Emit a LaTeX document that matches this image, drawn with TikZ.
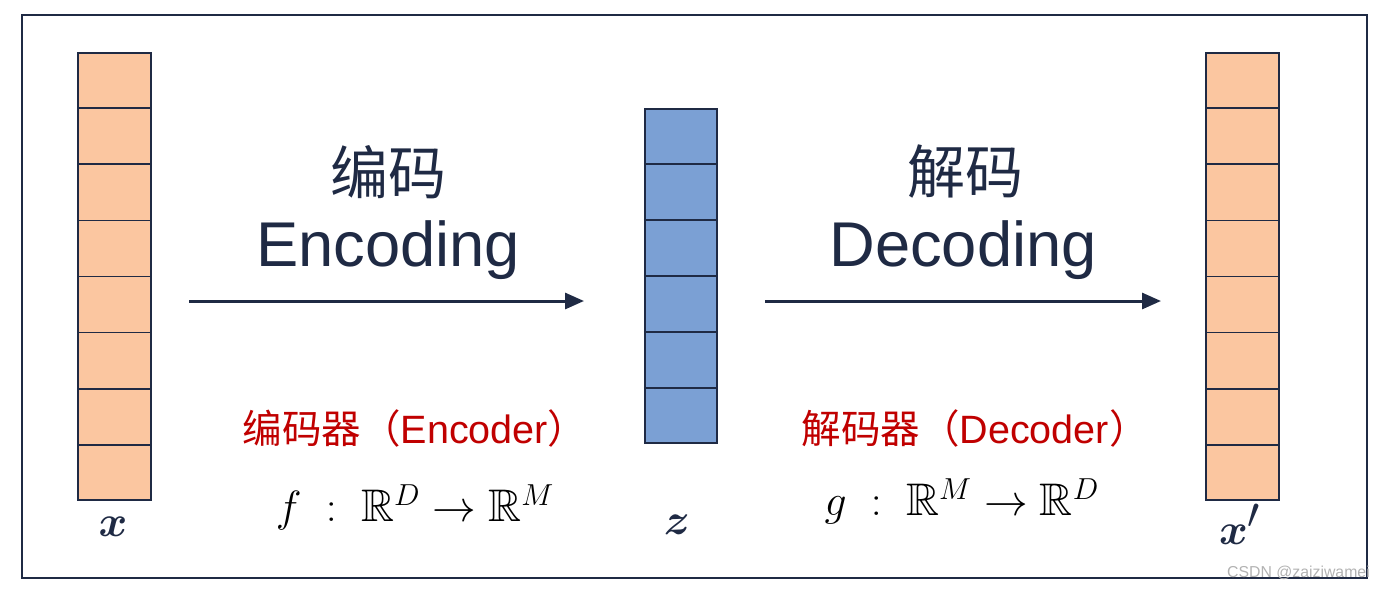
\documentclass[tikz,border=0pt]{standalone}
\usepackage{amsmath,amssymb}
\usepackage{fontspec}
\setsansfont{Liberation Sans}
\newfontfamily\cjk{Noto Sans CJK SC}
\usetikzlibrary{positioning, calc, arrows.meta}
\definecolor{navy}{HTML}{1F2A44}
\definecolor{peach}{HTML}{FBC6A0}
\definecolor{steel}{HTML}{7BA0D4}
\definecolor{darkred}{HTML}{C00000}

\begin{document}
\begin{tikzpicture}[x=0.02cm, y=-0.02cm,
  vec/.style={draw=navy, line width=1pt, minimum width=1.45cm, inner sep=0pt},
  flow/.style={navy, line width=1.7pt, -{Triangle[length=0.38cm, width=0.32cm]}},
  title/.style={navy, font=\sffamily\fontsize{36}{40}\selectfont},
  hanzi/.style={navy, font=\cjk\fontsize{33}{36}\selectfont},
  role/.style={darkred, font=\sffamily\fontsize{22.5}{26}\selectfont},
  map/.style={font=\fontsize{26}{30}\selectfont},
  vname/.style={navy, font=\fontsize{33}{36}\selectfont}]
  \useasboundingbox (0,0) rectangle (1390,589);
  \draw[navy, line width=0.8pt] (22,15) rectangle (1367,578);

  % the three vectors
  \node[vec, fill=peach, minimum height=8.94cm] (xin) at (114.5,276.5) {};
  \node[vec, fill=steel, minimum height=6.68cm] (zlat) at (681,276) {};
  \node[vec, fill=peach, minimum height=8.94cm] (xout) at (1242.5,276.5) {};
  \foreach \v/\n in {xin/8, zlat/6, xout/8} {
    \pgfmathtruncatemacro\last{\n-1}
    \foreach \i in {1,...,\last}
      \draw[navy, line width=1pt] ($(\v.north west)!\i/\n!(\v.south west)$)
        -- ($(\v.north east)!\i/\n!(\v.south east)$);
  }

  % arrows
  \coordinate (encS) at (189,301);
  \coordinate (encE) at (584,301);
  \coordinate (decS) at (765,301);
  \coordinate (decE) at (1161,301);
  \draw[flow] (encS) -- (encE);
  \draw[flow] (decS) -- (decE);

  % texts
  \node[hanzi] (enczh) at (388,172) {编码};
  \node[title] (enc) at (388,250) {Encoding};
  \node[hanzi] (deczh) at (965,172) {解码};
  \node[title] (dec) at (963,250) {Decoding};
  \node[role] (encoder) at (415,428) {{\cjk 编码器（}Encoder{\cjk ）}};
  \node[role] (decoder) at (975,428) {{\cjk 解码器（}Decoder{\cjk ）}};
  \node[map] (fmap) at (415,507) {$f\;:\;\mathbb{R}^D\rightarrow\mathbb{R}^M$};
  \node[map] (gmap) at (962,501) {$g\;:\;\mathbb{R}^M\rightarrow\mathbb{R}^D$};

  \node[vname] (xlab) at (113,527) {$\boldsymbol{x}$};
  \node[vname] (zlab) at (677,525) {$\boldsymbol{z}$};
  \node[vname] (xplab) at (1240,524) {$\boldsymbol{x}'$};

  \node[gray!60, font=\sffamily\fontsize{9}{10}\selectfont, anchor=east] (mark)
    at (1376,573) {CSDN @zaiziwamei};
\end{tikzpicture}
\end{document}
